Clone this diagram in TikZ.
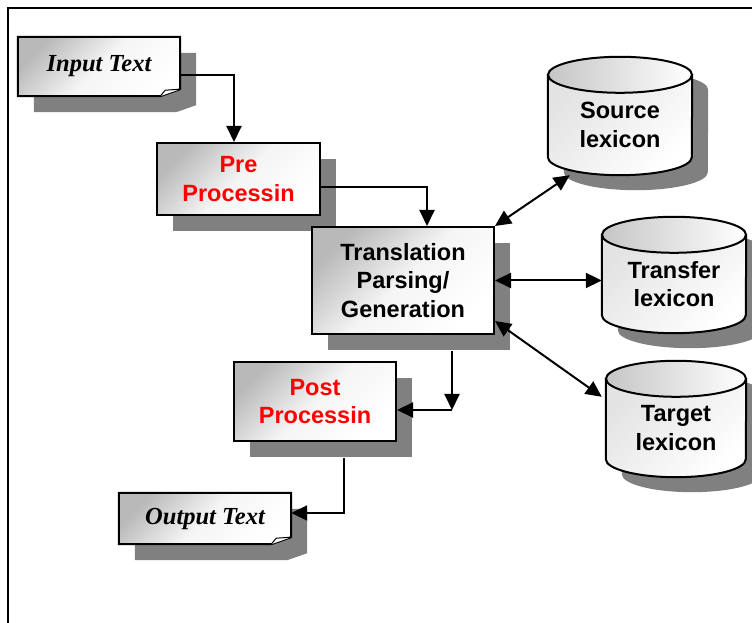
\documentclass[tikz,border=0pt]{standalone}
\usepackage{fontspec}
\setmainfont{Liberation Sans}
\newfontfamily\serifit{Liberation Serif}
\usetikzlibrary{arrows.meta,shadows,calc,backgrounds}

\begin{document}
\begin{tikzpicture}[x=1pt,y=1pt,
    every node/.style={font=\fontsize{23.5}{28.5}\selectfont\bfseries, align=center},
    box/.style={draw, line width=2pt, inner sep=0pt,
      top color=gray!55, bottom color=white, middle color=gray!8, shading angle=45,
      drop shadow={shadow xshift=16pt, shadow yshift=-16pt, fill=gray, opacity=1}},
    sheet/.style={inner sep=0pt},
    lexi/.style={inner sep=0pt},
    link/.style={line width=2pt, -{Triangle[length=16pt,width=15pt]}},
    dlink/.style={line width=2pt, {Triangle[length=16pt,width=15pt]}-{Triangle[length=16pt,width=15pt]}}]
    \useasboundingbox (0,0) rectangle (752,623);
    % frame
    \draw[line width=2.4pt] (8,0) -- (8,615) -- (752,615);
    \def\textsheet#1{
      \fill[gray] ($(#1.north west)+(16,-16)$) -- ($(#1.north east)+(16,-16)$)
        -- ($(#1.south east)+(16,-9)$) -- ($(#1.south east)+(-4,-16)$)
        -- ($(#1.south west)+(16,-16)$) -- cycle;
      \draw[line width=2pt, top color=gray!55, bottom color=white, middle color=gray!8, shading angle=45]
        (#1.north west) -- (#1.north east) -- ($(#1.south east)+(0,7)$)
        -- ($(#1.south east)+(-20,0)$) -- (#1.south west) -- cycle;
      \draw[line width=1pt, fill=white] ($(#1.south east)+(-20,0)$)
        -- ($(#1.south east)+(-15,6)$) -- ($(#1.south east)+(0,7)$);
    }
    \def\lexdrum#1#2{
      \fill[gray] ($(#1.north west)+(16,-15)$) -- ($(#1.south west)+(16,3)$)
        arc[start angle=180, end angle=360, x radius=#2, y radius=18]
        -- ($(#1.north east)+(16,-15)$)
        arc[start angle=0, end angle=180, x radius=#2, y radius=18] -- cycle;
      \draw[line width=2pt, top color=gray!22, bottom color=white, shading angle=45]
        (#1.north west) -- ($(#1.south west)+(0,18)$)
        arc[start angle=180, end angle=360, x radius=#2, y radius=18]
        -- (#1.north east) -- cycle;
      \draw[line width=2pt, left color=gray!45, right color=white]
        (#1.north) ellipse[x radius=#2, y radius=18];
    }
    % nodes
    \node[sheet, minimum width=162pt, minimum height=59pt] (in) at (99,556.5) {\serifit\bfseries\itshape\fontsize{24.5}{28}\selectfont Input Text};
    \node[box, minimum width=163pt, minimum height=72pt, text=red] (pre) at (238.5,444) {Pre\\Processin};
    \node[box, minimum width=182pt, minimum height=107pt] (tr) at (403,342.5) {Translation\\Parsing/\\Generation};
    \node[box, minimum width=162pt, minimum height=79pt, text=red] (post) at (315,221.5) {Post\\Processin};
    \node[sheet, minimum width=172pt, minimum height=51pt] (out) at (205,104.5) {\serifit\bfseries\itshape\fontsize{24.5}{28}\selectfont Output Text};
    \node[lexi, minimum width=144pt, minimum height=100pt] (src) at (620,498) {Source\\lexicon};
    \node[lexi, minimum width=144pt, minimum height=98pt] (trf) at (674,339) {Transfer\\lexicon};
    \node[lexi, minimum width=140pt, minimum height=98pt] (tgt) at (676,195) {Target\\lexicon};
    \begin{scope}[on background layer]
      \textsheet{in}
      \textsheet{out}
      \lexdrum{src}{72}
      \lexdrum{trf}{72}
      \lexdrum{tgt}{70}
    \end{scope}
    % connectors
    \coordinate (bend1) at (452,213);
    \draw[link] ([yshift=-8.5pt]in.east) -| ([xshift=-4.5pt]pre.north);
    \draw[link] ([yshift=-8pt]pre.east) -| ([xshift=24pt]tr.north);
    \draw[dlink] (tr.north east) -- ($(src.south west)+(22,0)$);
    \draw[dlink] (tr.east) -- (tr.east -| trf.west);
    \draw[dlink] ([yshift=14pt]tr.south east) -- ($(tgt.north west)+(-4,-18)$);
    \draw[link] ([xshift=49pt,yshift=-16pt]tr.south) -- (bend1);
    \draw[link] (bend1) -- (bend1 -| post.east);
    \draw[link] ([xshift=29pt,yshift=-16pt]post.south) |- ([yshift=5.5pt]out.east);
\end{tikzpicture}
\end{document}
